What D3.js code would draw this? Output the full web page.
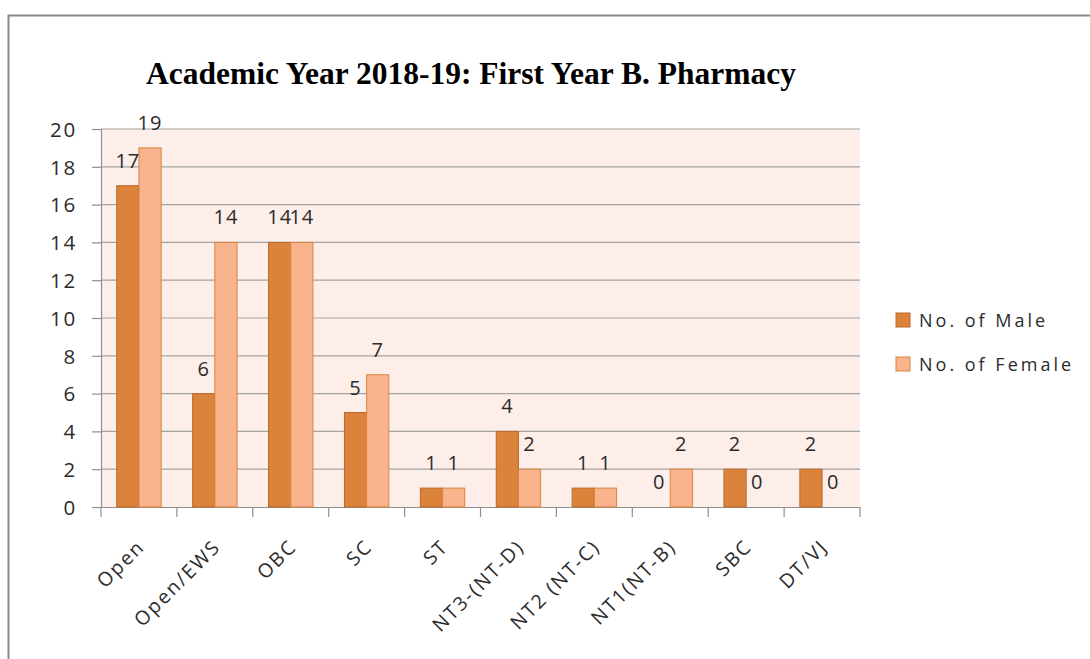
<!DOCTYPE html>
<html>
<head>
<meta charset="utf-8">
<script src="https://cdn.jsdelivr.net/npm/d3@7"></script>
<style>
  body { margin: 0; background: #fff; }
  svg text { font-family: "Open Sans", "DejaVu Sans", sans-serif; fill: #2b2b2b; }
</style>
</head>
<body>
<div id="chart"></div>
<script>
// chart values
const categories = ["Open", "Open/EWS", "OBC", "SC", "ST", "NT3-(NT-D)", "NT2 (NT-C)", "NT1(NT-B)", "SBC", "DT/VJ"];
const seriesNames = ["No. of Male", "No. of Female"];
const maleValues = [17, 6, 14, 5, 1, 4, 1, 0, 2, 2];
const femaleValues = [19, 14, 14, 7, 1, 2, 1, 2, 0, 0];
const yTicks = [0, 2, 4, 6, 8, 10, 12, 14, 16, 18, 20];

const W = 1090, H = 659;
const plot = { left: 101, top: 129, right: 860, bottom: 507 };

const colors = ["#db823b", "#f9b38d"];
const strokes = ["#b9692c", "#d9843f"];

const svg = d3.select("#chart").append("svg")
  .attr("width", W).attr("height", H);

// outer frame (runs off the right and bottom of the page)
svg.append("path")
  .attr("d", "M8.5," + H + " V15.5 H" + W)
  .attr("fill", "none")
  .attr("stroke", "#8a8a8a")
  .attr("stroke-width", 2);

// scales
const x = d3.scaleBand()
  .domain(categories)
  .range([plot.left, plot.right])
  .paddingInner(0).paddingOuter(0);

const xInner = d3.scaleBand()
  .domain(seriesNames)
  .range([0, x.bandwidth()])
  .paddingOuter(0.71).paddingInner(0);

const y = d3.scaleLinear()
  .domain([0, 20])
  .range([plot.bottom, plot.top]);

// plot background
svg.append("rect")
  .attr("x", plot.left).attr("y", plot.top)
  .attr("width", plot.right - plot.left)
  .attr("height", plot.bottom - plot.top)
  .attr("fill", "#fdeee9");

// gridlines
svg.append("g")
  .selectAll("line")
  .data(yTicks.filter(d => d > 0))
  .join("line")
  .attr("x1", plot.left).attr("x2", plot.right)
  .attr("y1", d => y(d)).attr("y2", d => y(d))
  .attr("stroke", "#a3a3a3").attr("stroke-width", 1.2);

// y axis
const yAxis = svg.append("g")
  .attr("transform", "translate(" + plot.left + ",0)")
  .call(d3.axisLeft(y).tickValues(yTicks).tickSize(9).tickPadding(15));
yAxis.selectAll("path, line").attr("stroke", "#8f8f8f").attr("stroke-width", 1.2);
yAxis.selectAll("text")
  .style("font-size", "20.5px")
  .style("letter-spacing", "1.8px")
  .attr("dy", "0.36em");

// x axis
const xAxis = svg.append("g")
  .attr("transform", "translate(0," + plot.bottom + ")")
  .call(d3.axisBottom(x).tickSize(0).tickFormat(""));
xAxis.select(".domain").attr("stroke", "#8f8f8f").attr("stroke-width", 1.2);
xAxis.selectAll(".tick").remove();

// tick marks at category boundaries
const bounds = categories.map(c => x(c)).concat([plot.right]);
xAxis.append("g")
  .selectAll("line")
  .data(bounds)
  .join("line")
  .attr("x1", d => d).attr("x2", d => d)
  .attr("y1", 0).attr("y2", 10)
  .attr("stroke", "#8f8f8f").attr("stroke-width", 1.2);

// rotated category labels
svg.append("g")
  .selectAll("text")
  .data(categories)
  .join("text")
  .attr("transform", d => "translate(" + (x(d) + x.bandwidth() / 2 + 7) + "," + (plot.bottom + 41) + ") rotate(-45)")
  .attr("text-anchor", "end")
  .style("font-size", "19.5px")
  .style("letter-spacing", "2px")
  .text(d => d);

// bars
const rows = categories.map((c, i) => ({ cat: c, vals: [maleValues[i], femaleValues[i]] }));

const groups = svg.append("g")
  .selectAll("g")
  .data(rows)
  .join("g")
  .attr("transform", d => "translate(" + x(d.cat) + ",0)");

groups.selectAll("rect")
  .data(d => d.vals.map((v, k) => ({ key: seriesNames[k], k: k, v: v })))
  .join("rect")
  .attr("x", d => xInner(d.key))
  .attr("y", d => y(d.v))
  .attr("width", xInner.bandwidth())
  .attr("height", d => y(0) - y(d.v))
  .attr("fill", d => colors[d.k])
  .attr("stroke", d => d.v > 0 ? strokes[d.k] : "none")
  .attr("stroke-width", 1);

// data labels (the two 14s over OBC touch, as in the original)
groups.selectAll("text")
  .data(d => d.vals.map((v, k) => ({ key: seriesNames[k], k: k, v: v })))
  .join("text")
  .attr("x", d => xInner(d.key) + xInner.bandwidth() / 2)
  .attr("y", d => y(d.v) - 18)
  .attr("text-anchor", "middle")
  .style("font-size", "20px")
  .style("letter-spacing", "1px")
  .text(d => d.v);

// title
svg.append("text")
  .attr("x", 471).attr("y", 84)
  .attr("text-anchor", "middle")
  .style("font-family", "'Liberation Serif', 'Times New Roman', serif")
  .style("font-weight", "bold")
  .style("font-size", "31.5px")
  .style("fill", "#000")
  .text("Academic Year 2018-19: First Year B. Pharmacy");

// legend
const legend = svg.append("g")
  .selectAll("g")
  .data(seriesNames)
  .join("g")
  .attr("transform", (d, i) => "translate(896," + (313 + i * 44) + ")");

legend.append("rect")
  .attr("width", 14).attr("height", 14)
  .attr("fill", (d, i) => colors[i])
  .attr("stroke", (d, i) => strokes[i]);

legend.append("text")
  .attr("x", 23).attr("y", 14)
  .style("font-size", "18px")
  .style("letter-spacing", "3px")
  .text(d => d);
</script>
</body>
</html>
